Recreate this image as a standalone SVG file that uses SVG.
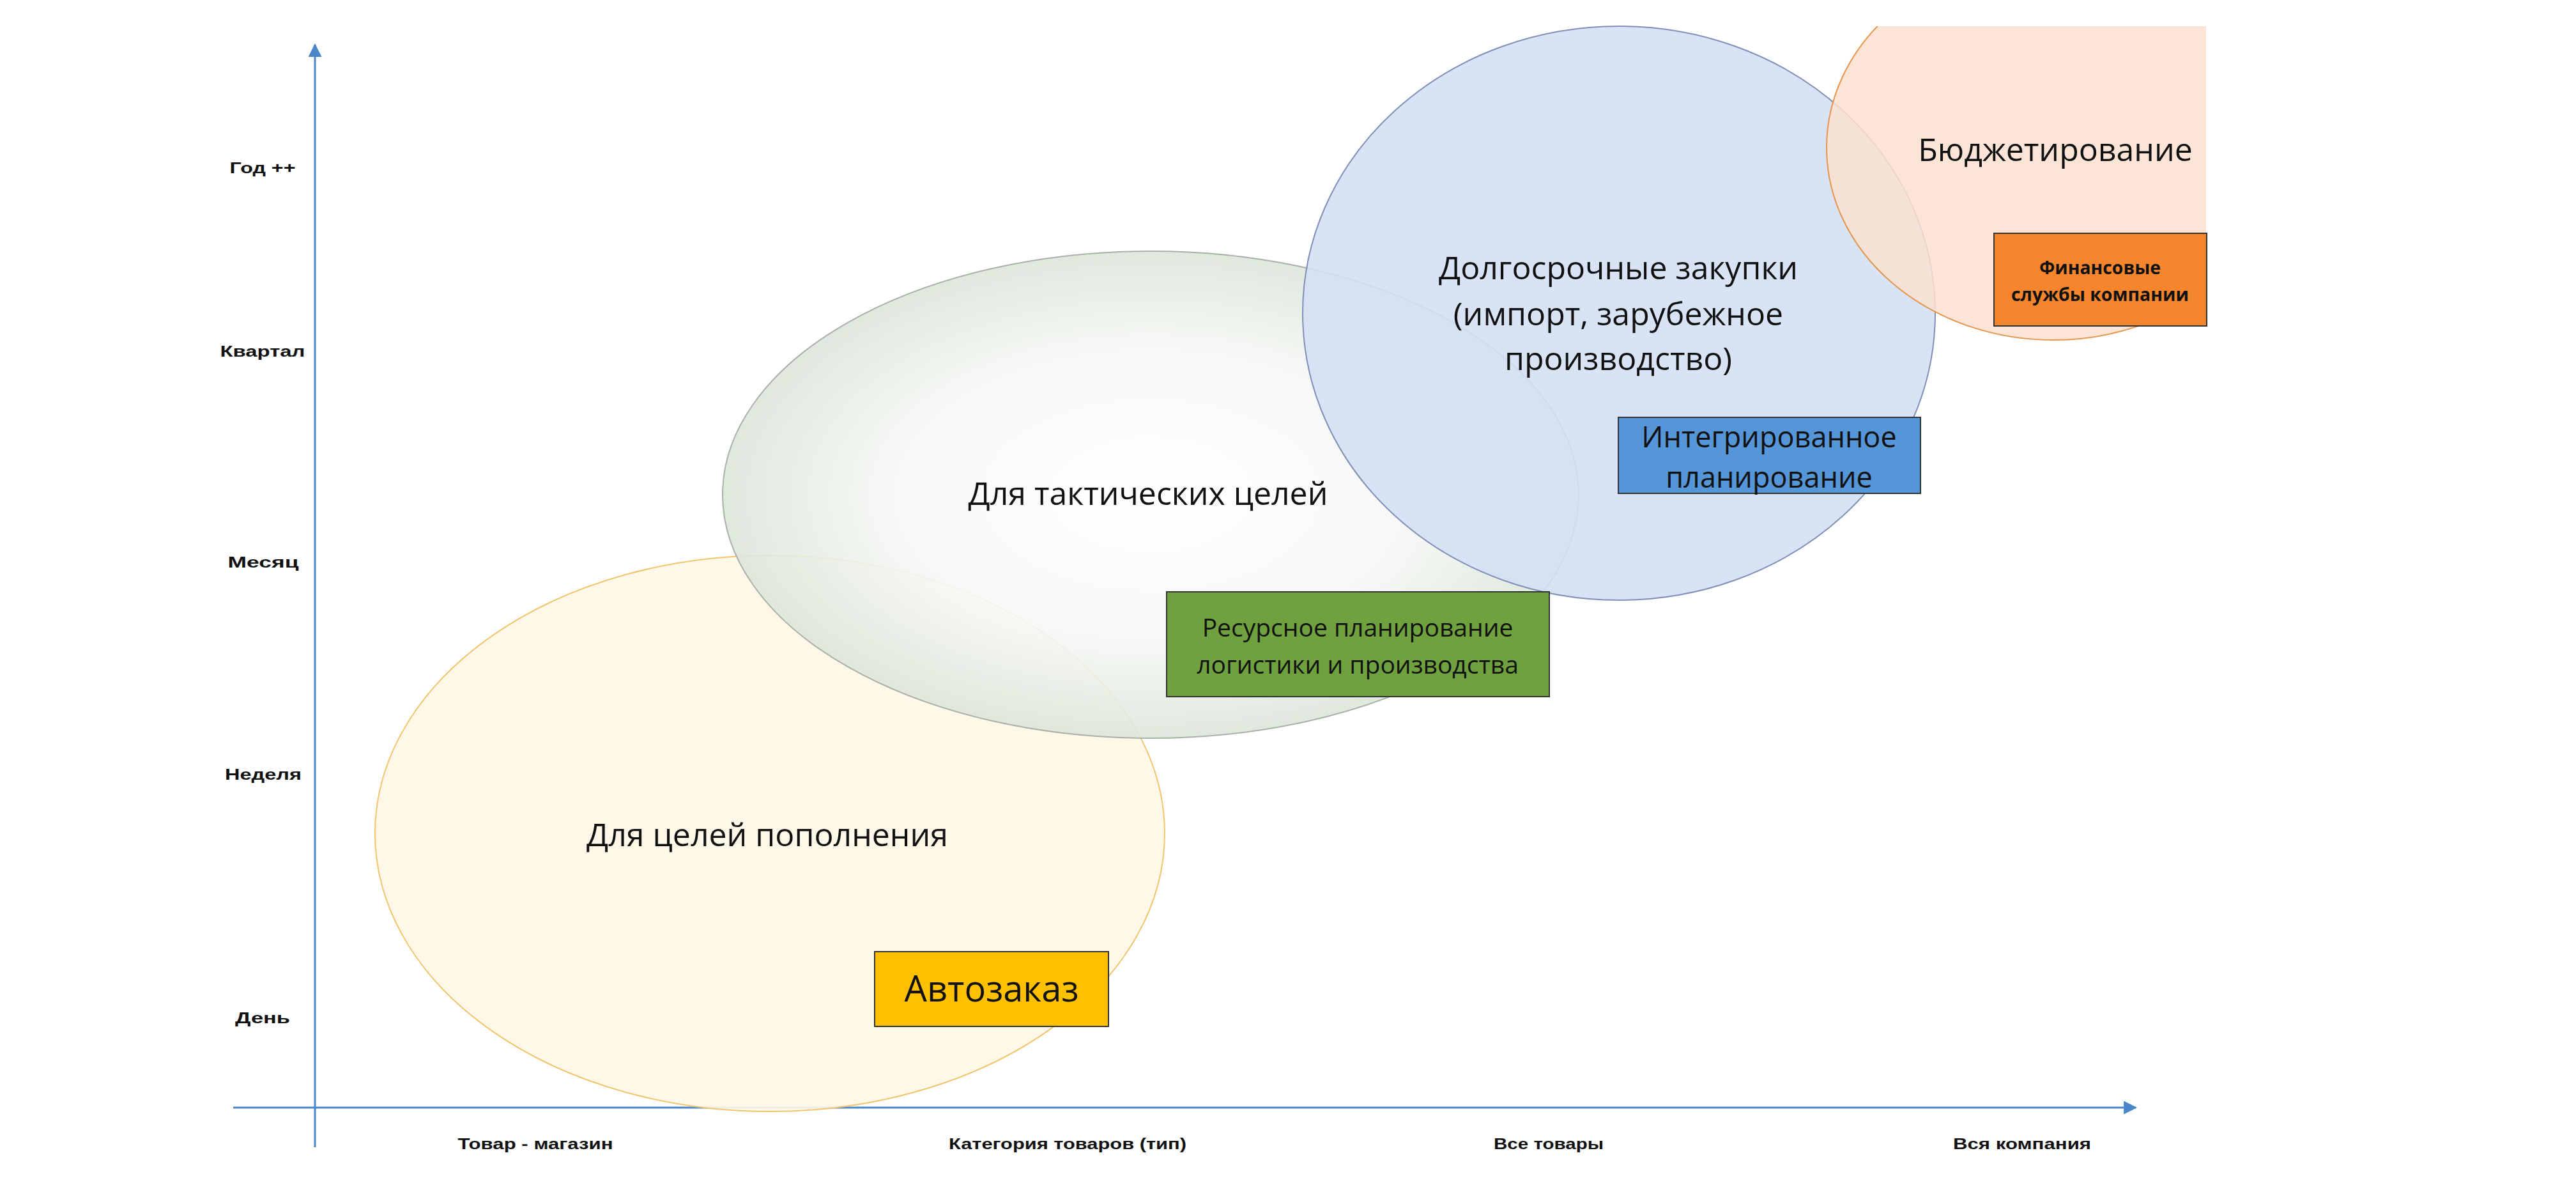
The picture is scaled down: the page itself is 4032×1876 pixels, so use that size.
<svg xmlns="http://www.w3.org/2000/svg" width="4032" height="1876" viewBox="0 0 4032 1876">
  <defs>
    <style>
      .axis { stroke: #4A86C8; stroke-width: 3; fill: none; }
      .tick { font-family: "Liberation Sans", Arial, sans-serif; font-weight: bold; font-size: 24px; fill: #111; text-anchor: middle; }
      .big { font-family: "Open Sans", "Liberation Sans", sans-serif; font-size: 50px; fill: #111; text-anchor: middle; }
      .boxt { font-family: "Open Sans", "Liberation Sans", sans-serif; fill: #111; text-anchor: middle; }
      .box { stroke: #333; stroke-width: 2; }
    </style>
    <marker id="arr" viewBox="0 0 10 10" refX="9" refY="5" markerWidth="7" markerHeight="7" orient="auto" markerUnits="strokeWidth">
      <path d="M0,0 L10,5 L0,10 Z" fill="#4A86C8"/>
    </marker>
    <radialGradient id="gGrey" cx="0.5" cy="0.5" r="0.5">
      <stop offset="0" stop-color="#FFFFFF"/>
      <stop offset="0.6" stop-color="#F6F8F5"/>
      <stop offset="1" stop-color="#DCE6DA"/>
    </radialGradient>
    <clipPath id="clipTR">
      <rect x="0" y="41" width="3453" height="1835"/>
    </clipPath>
  </defs>
  <rect width="4032" height="1876" fill="#FFFFFF"/>

  <g id="connectors">
    <line class="axis" x1="493" y1="1795" x2="493" y2="70" marker-end="url(#arr)"/>
    <line class="axis" x1="365" y1="1733" x2="3343" y2="1733" marker-end="url(#arr)"/>
  </g>

  <g id="axis-labels">
    <text class="tick" x="411" y="271" textLength="103" lengthAdjust="spacingAndGlyphs">Год ++</text>
    <text class="tick" x="411" y="558" textLength="133" lengthAdjust="spacingAndGlyphs">Квартал</text>
    <text class="tick" x="412" y="888" textLength="111" lengthAdjust="spacingAndGlyphs">Месяц</text>
    <text class="tick" x="412" y="1220" textLength="120" lengthAdjust="spacingAndGlyphs">Неделя</text>
    <text class="tick" x="411" y="1601" textLength="86" lengthAdjust="spacingAndGlyphs">День</text>
    <text class="tick" x="838" y="1798" textLength="243" lengthAdjust="spacingAndGlyphs">Товар - магазин</text>
    <text class="tick" x="1671" y="1798" textLength="372" lengthAdjust="spacingAndGlyphs">Категория товаров (тип)</text>
    <text class="tick" x="2424" y="1798" textLength="172" lengthAdjust="spacingAndGlyphs">Все товары</text>
    <text class="tick" x="3165" y="1798" textLength="216" lengthAdjust="spacingAndGlyphs">Вся компания</text>
  </g>

  <g id="node-replenish">
    <ellipse cx="1205" cy="1304" rx="618" ry="435" fill="#FFF7E6" fill-opacity="0.9" stroke="#F2C46D" stroke-width="2"/>
  </g>
  <g id="node-tactical">
    <ellipse cx="1801" cy="774" rx="670" ry="381" fill="url(#gGrey)" fill-opacity="0.9" stroke="#A9B0A8" stroke-width="2"/>
  </g>
  <g id="node-longterm">
    <ellipse cx="2534" cy="490" rx="495" ry="449" fill="#D3E0F5" fill-opacity="0.88" stroke="#7F8FB8" stroke-width="2"/>
  </g>
  <g id="node-budget" clip-path="url(#clipTR)">
    <ellipse cx="3214" cy="231" rx="355" ry="301" fill="#FCE1D0" fill-opacity="0.85" stroke="#E7954D" stroke-width="2"/>
  </g>

  <g id="labels">
    <text class="big" x="1201" y="1324">Для целей пополнения</text>
    <text class="big" x="1797" y="790">Для тактических целей</text>
    <text class="big" x="2533" y="437">Долгосрочные закупки</text>
    <text class="big" x="2533" y="509">(импорт, зарубежное</text>
    <text class="big" x="2533" y="579">производство)</text>
    <text class="big" x="3217" y="252">Бюджетирование</text>
  </g>

  <g id="box-autoorder">
    <rect class="box" x="1369" y="1489" width="366" height="117" fill="#FFC000"/>
    <text class="boxt" x="1552" y="1567" font-size="56">Автозаказ</text>
  </g>
  <g id="box-resource">
    <rect class="box" x="1826" y="926" width="599" height="164" fill="#70A13F"/>
    <text class="boxt" x="2125" y="996" font-size="39">Ресурсное планирование</text>
    <text class="boxt" x="2125" y="1054" font-size="39">логистики и производства</text>
  </g>
  <g id="box-integrated">
    <rect class="box" x="2533" y="653" width="473" height="119" fill="#5596D8"/>
    <text class="boxt" x="2769" y="700" font-size="45">Интегрированное</text>
    <text class="boxt" x="2769" y="763" font-size="45">планирование</text>
  </g>
  <g id="box-finance">
    <rect class="box" x="3121" y="365" width="333" height="145" fill="#F5862E"/>
    <text class="boxt" x="3287" y="429" font-size="28" font-weight="bold" textLength="190" lengthAdjust="spacingAndGlyphs">Финансовые</text>
    <text class="boxt" x="3287" y="471" font-size="28" font-weight="bold" textLength="278" lengthAdjust="spacingAndGlyphs">службы компании</text>
  </g>
</svg>
